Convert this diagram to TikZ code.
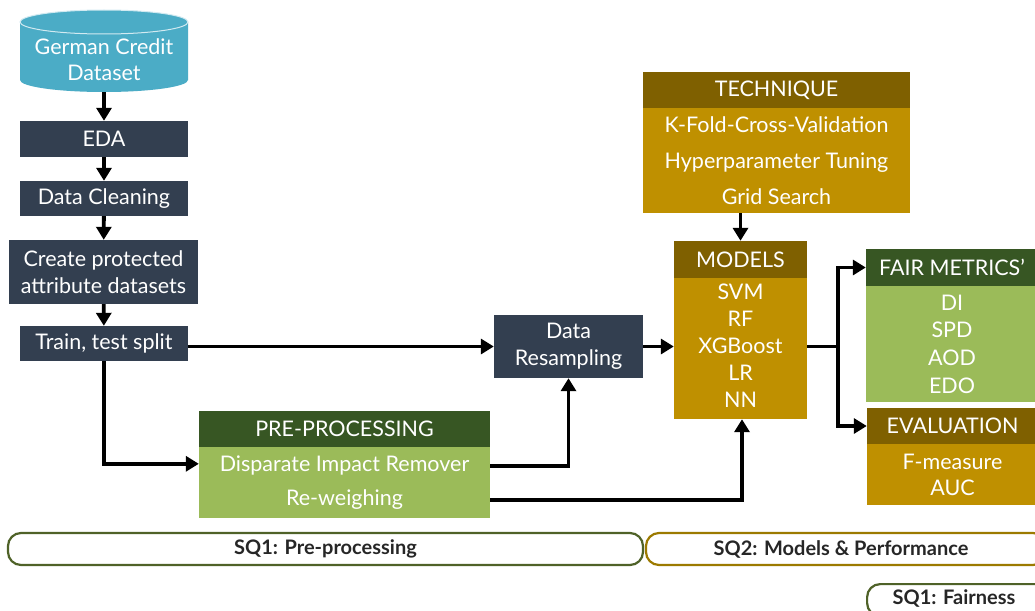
\documentclass[tikz,border=0pt]{standalone}
\usepackage{fontspec}
\setmainfont{Lato}
\usetikzlibrary{calc,arrows.meta}
\definecolor{slate}{HTML}{333F50}
\definecolor{teal}{HTML}{4BACC6}
\definecolor{dgreen}{HTML}{375623}
\definecolor{lgreen}{HTML}{9BBB59}
\definecolor{dgold}{HTML}{7F6000}
\definecolor{gold}{HTML}{BF9000}
\definecolor{sqgreen}{HTML}{4F6228}
\definecolor{sqgold}{HTML}{9C7A00}
\tikzset{
  box/.style={rectangle, inner sep=0pt, text=white, align=center, font=\fontsize{21.5}{27}\selectfont},
  arr/.style={draw=black, line width=3.8pt, -{Triangle[length=13pt,width=15pt]}},
  conn/.style={draw=black, line width=3.8pt},
  sq/.style={draw, line width=2.2pt, rounded corners=13pt, fill=white, inner sep=0pt, text=black!85, font=\fontsize{20}{22}\selectfont\bfseries}
}
\begin{document}
\begin{tikzpicture}[x=1pt,y=1pt]
\useasboundingbox (0,0) rectangle (1035,-610);
\clip (0,0) rectangle (1035,-610);
\fill[white] (0,0) rectangle (1035,-610);
% cylinder
\fill[teal] (20,-22) -- (20,-80) arc[start angle=180,end angle=360,x radius=84,y radius=12] -- (188,-22) arc[start angle=0,end angle=180,x radius=84,y radius=12] -- cycle;
\draw[white!75!teal, line width=1pt] (104,-22) ellipse[x radius=84,y radius=12];
\node[box, font=\fontsize{21.5}{26}\selectfont] (gc) at (104,-59.5) {German Credit\\Dataset};
\node[box, fill=slate, minimum width=168pt, minimum height=36pt] (eda) at (104,-139) {EDA};
\node[box, fill=slate, minimum width=168pt, minimum height=35pt] (clean) at (104,-198.5) {\raisebox{-2pt}{Data Cleaning}};
\node[box, fill=slate, minimum width=189pt, minimum height=64pt] (create) at (103.5,-272) {Create protected\\attribute datasets};
\node[box, fill=slate, minimum width=168pt, minimum height=35pt] (train) at (104,-343.5) {\raisebox{-2pt}{Train, test split}};
\node[box, fill=slate, minimum width=149pt, minimum height=63pt] (dr) at (568.5,-346.5) {\raisebox{-3pt}{\begin{tabular}{@{}c@{}}Data\\Resampling\end{tabular}}};
% pre-processing
\node[box, fill=dgreen, minimum width=291pt, minimum height=36pt] (prehdr) at (344.5,-429) {PRE-PROCESSING};
\node[box, fill=lgreen, minimum width=291pt, minimum height=71pt, font=\fontsize{21.5}{34}\selectfont] (prebody) at (344.5,-482.5) {Disparate Impact Remover\\Re-weighing};
% technique
\node[box, fill=dgold, minimum width=267pt, minimum height=36pt] (techhdr) at (776.5,-90) {\raisebox{-1.5pt}{TECHNIQUE}};
\node[box, fill=gold, minimum width=267pt, minimum height=105pt, font=\fontsize{21.5}{36}\selectfont] (techbody) at (776.5,-160.5) {K-Fold-Cross-Validation\\Hyperparameter Tuning\\Grid Search};
% models
\node[box, fill=dgold, minimum width=133pt, minimum height=37pt] (modhdr) at (740.5,-259.5) {MODELS};
\node[box, fill=gold, minimum width=133pt, minimum height=141pt] (modbody) at (740.5,-348.5) {\raisebox{3pt}{\begin{tabular}{@{}c@{}}SVM\\RF\\XGBoost\\LR\\NN\end{tabular}}};
% fair metrics
\node[box, fill=dgreen, minimum width=172pt, minimum height=37pt] (fairhdr) at (952,-267.5) {FAIR METRICS’};
\node[box, fill=lgreen, minimum width=172pt, minimum height=116pt, font=\fontsize{21.5}{27.7}\selectfont] (fairbody) at (952,-344) {DI\\SPD\\AOD\\EDO};
% evaluation
\node[box, fill=dgold, minimum width=171pt, minimum height=36pt] (evalhdr) at (952.5,-426) {EVALUATION};
\node[box, fill=gold, minimum width=171pt, minimum height=61pt, font=\fontsize{21.5}{26}\selectfont] (evalbody) at (952.5,-474.5) {F-measure\\AUC};
% connectors
\draw[arr] (104,-92) -- (eda.north);
\draw[arr] (eda) -- (clean);
\draw[arr] (clean) -- (create);
\draw[arr] (create) -- (train);
\draw[arr] (train.east |- dr.west) -- (dr.west);
\coordinate (preIn) at ($(prebody.north west)+(0,-17)$);
\draw[arr] (train.south) |- (preIn);
\coordinate (preOut1) at ($(prebody.north east)+(0,-19)$);
\draw[arr] (preOut1) -| (dr.south);
\coordinate (preOut2) at ($(prebody.north east)+(0,-53)$);
\draw[arr] (preOut2) -| ([xshift=1.5pt]modbody.south);
\draw[arr] (dr.east) -- (dr.east -| modbody.west);
\draw[arr] (techbody.south -| modhdr.north) -- (modhdr.north);
\coordinate (mOut) at ($(modbody.east)+(0,2)$);
\coordinate (split) at ($(mOut)+(31,0)$);
\draw[conn] (mOut) -- (split);
\draw[arr] ([yshift=-1.9pt]split) |- (fairhdr.west);
\draw[arr] ([yshift=1.9pt]split) |- (evalhdr.west);
% SQ labels
\node[sq, draw=sqgreen, minimum width=635pt, minimum height=32pt] (sq1) at (325.5,-549) {SQ1: Pre-processing};
\node[sq, draw=sqgold, minimum width=400pt, minimum height=32pt] (sq2) at (846,-549) {\hspace*{-10pt}SQ2: Models \& Performance};
\node[sq, draw=sqgreen, minimum width=190pt, minimum height=32pt, anchor=north west] (sq3) at (866,-583) {};
\node[text=black!85, font=\fontsize{20}{22}\selectfont\bfseries] (sq3t) at (954,-598) {SQ1: Fairness};
\end{tikzpicture}
\end{document}
